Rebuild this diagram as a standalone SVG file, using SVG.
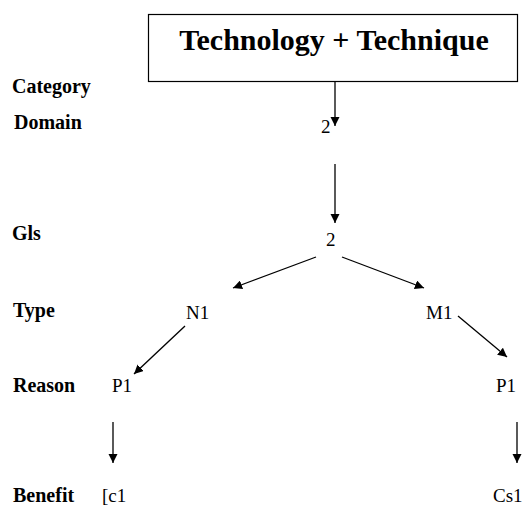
<svg xmlns="http://www.w3.org/2000/svg" width="531" height="506" viewBox="0 0 531 506">
  <style>
    text { font-family: 'Liberation Serif', 'Times New Roman', Times, 'DejaVu Serif', serif; fill: #000; }
    .lbl { font-weight: bold; font-size: 20px; }
    .node { font-size: 19px; }
    .title { font-weight: bold; font-size: 30px; }
    .edge { stroke: #000; stroke-width: 1.3; fill: none; marker-end: url(#arrow); }
  </style>
  <defs>
    <marker id="arrow" viewBox="0 0 10 10" refX="10" refY="5" markerWidth="7" markerHeight="7" markerUnits="strokeWidth" orient="auto">
      <path d="M0,0 L10,5 L0,10 z" fill="#000"/>
    </marker>
  </defs>
  <rect width="531" height="506" fill="#fff"/>

  <!-- row labels -->
  <g id="labels">
    <text class="lbl" x="12" y="93">Category</text>
    <text class="lbl" x="14" y="129">Domain</text>
    <text class="lbl" x="12" y="240">Gls</text>
    <text class="lbl" x="13" y="317">Type</text>
    <text class="lbl" x="13" y="392">Reason</text>
    <text class="lbl" x="13" y="502">Benefit</text>
  </g>

  <g id="root">
    <rect x="148.5" y="14.5" width="369" height="67" fill="#fff" stroke="#000" stroke-width="1.2"/>
    <text class="title" x="334" y="50" text-anchor="middle">Technology + Technique</text>
  </g>
  <g id="domain"><text class="node" x="321" y="133">2</text></g>
  <g id="gls"><text class="node" x="326" y="246">2</text></g>
  <g id="n1"><text class="node" x="186" y="319">N1</text></g>
  <g id="m1"><text class="node" x="426" y="319">M1</text></g>
  <g id="p1-left"><text class="node" x="112" y="392">P1</text></g>
  <g id="p1-right"><text class="node" x="496" y="392">P1</text></g>
  <g id="c1"><text class="node" x="102" y="502">[c1</text></g>
  <g id="cs1"><text class="node" x="493" y="502">Cs1</text></g>

  <g id="connectors">
    <line class="edge" x1="335" y1="82" x2="335" y2="126"/>
    <line class="edge" x1="335" y1="164" x2="335" y2="223"/>
    <line class="edge" x1="316" y1="257" x2="233" y2="288"/>
    <line class="edge" x1="342" y1="257" x2="424" y2="288"/>
    <line class="edge" x1="185" y1="326" x2="134" y2="374"/>
    <line class="edge" x1="458" y1="316" x2="507" y2="357"/>
    <line class="edge" x1="113" y1="422" x2="113" y2="463"/>
    <line class="edge" x1="517" y1="422" x2="517" y2="463"/>
  </g>
</svg>
